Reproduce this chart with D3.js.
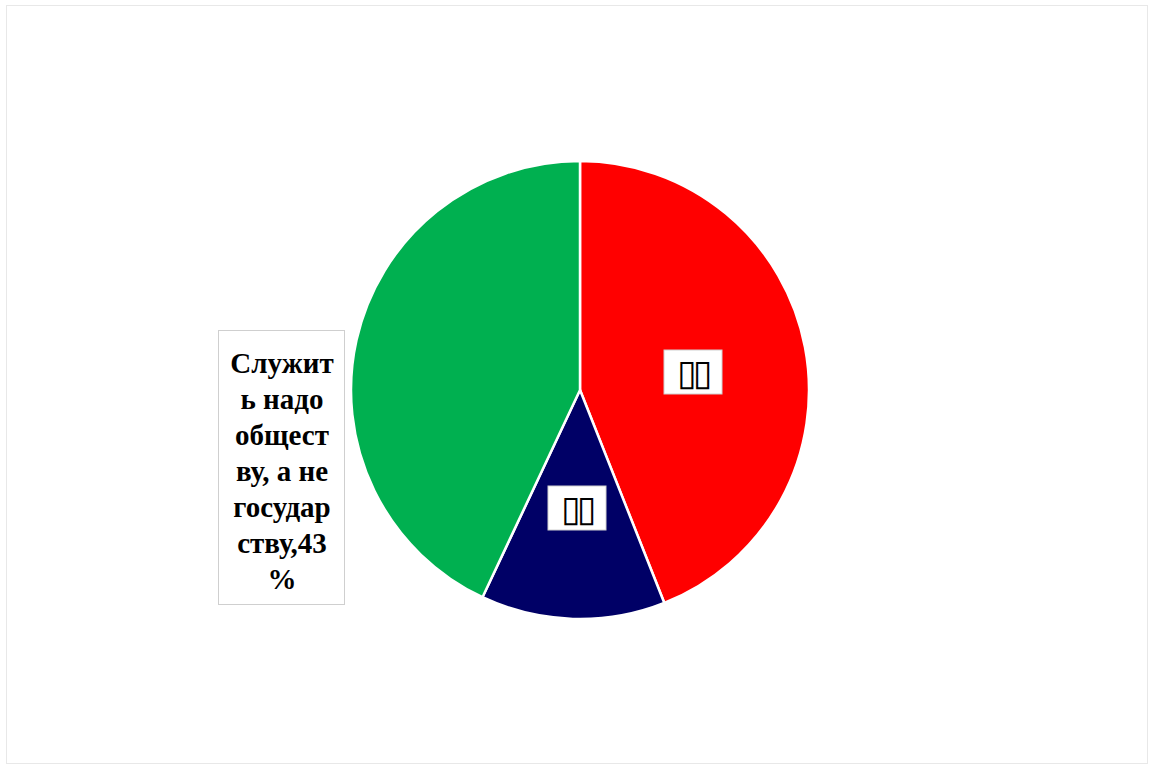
<!DOCTYPE html>
<html><head><meta charset="utf-8">
<script src="https://cdn.jsdelivr.net/npm/d3@7"></script>
<style>body{margin:0;background:#fff}svg{display:block}</style>
</head><body>
<svg id="c" width="1153" height="770"></svg>
<script>
const categories = ["▯▯", "▯▯", "Служить надо обществу, а не государству"];
const values = [44, 13, 43];
const colors = ["#ff0000", "#000066", "#00b050"];
const labelLines = [["▯▯"], ["▯▯"], ["Служит","ь надо","общест","ву, а не","государ","ству,43","%"]];

const svg = d3.select("#c");
svg.append("rect").attr("x",6.5).attr("y",5.5).attr("width",1141).attr("height",758)
  .attr("fill","#fff").attr("stroke","#e8e8e8");

const cx = 580, cy = 390, r = 229;
const pie = d3.pie().sort(null).value(d=>d)(values);
const arc = d3.arc().innerRadius(0).outerRadius(r);
const g = svg.append("g").attr("transform",`translate(${cx},${cy})`);
g.selectAll("path").data(pie).join("path")
  .attr("d",arc).attr("fill",(d,i)=>colors[i]).attr("stroke","#fff").attr("stroke-width",2.5);

const font = "'Liberation Serif','Times New Roman',serif";
// inner labels
const inner = [{i:0, x:693, y:372}, {i:1, x:577, y:508}];
inner.forEach(o=>{
  svg.append("rect").attr("x",o.x-29).attr("y",o.y-22).attr("width",58).attr("height",44)
    .attr("fill","#fff").attr("stroke","#d0d0d0");
  svg.append("text").attr("x",o.x).attr("y",o.y+13)
    .attr("text-anchor","middle")
    .attr("font-family","'DejaVu Sans',sans-serif").attr("font-size",36)
    .attr("letter-spacing",-4)
    .attr("fill","#000").text(labelLines[o.i][0]);
});
// outer label for green slice
const bx=218, by=330, bw=126, bh=274;
svg.append("rect").attr("x",bx+0.5).attr("y",by+0.5).attr("width",bw).attr("height",bh)
  .attr("fill","#fff").attr("stroke","#cfcfcf");
const t = svg.append("text").attr("font-family",font).attr("font-weight","bold")
  .attr("font-size",29).attr("text-anchor","middle").attr("fill","#000");
labelLines[2].forEach((l,k)=>{
  t.append("tspan").attr("x",bx+bw/2+1).attr("y",373+k*36).text(l);
});
</script>
</body></html>
